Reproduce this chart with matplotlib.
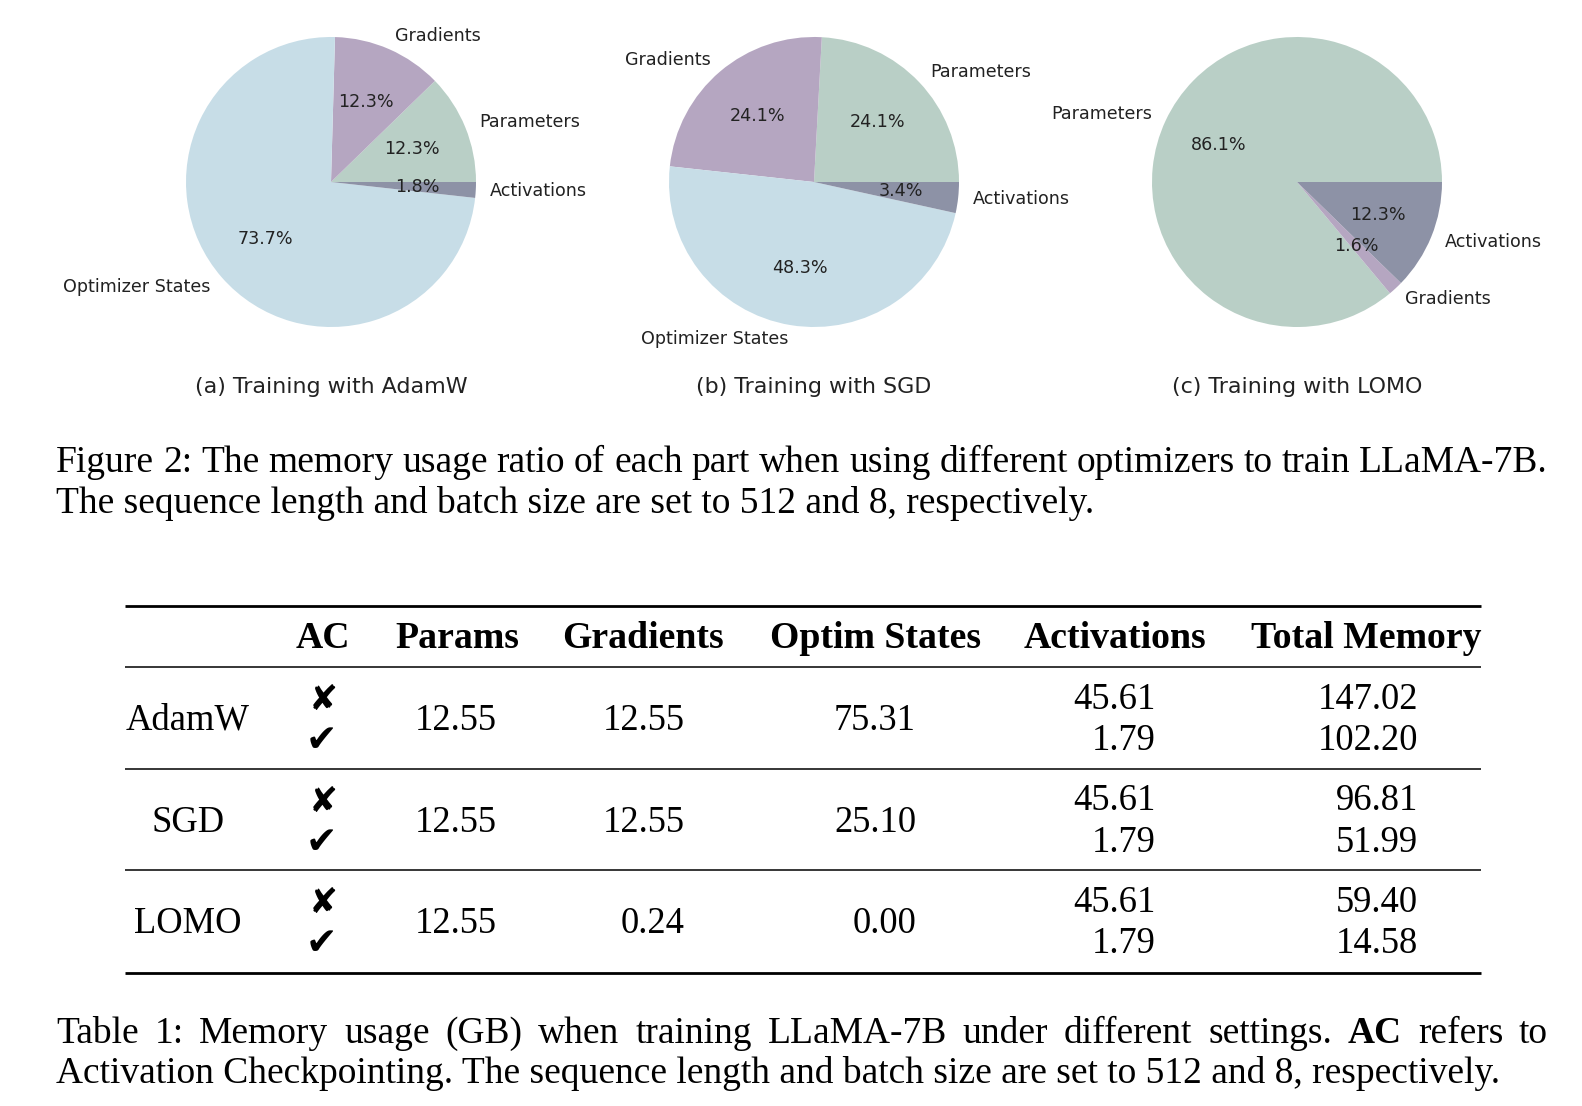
import matplotlib
matplotlib.use('Agg')
import matplotlib.pyplot as plt

W, H = 1582, 1106

# memory parts, in the order the pie wedges are drawn
COMPONENTS = ['Parameters', 'Gradients', 'Optimizer States', 'Activations']
OPTIMIZERS = ['AdamW', 'SGD', 'LOMO']
SUBCAPTIONS = ['(a) Training with AdamW', '(b) Training with SGD', '(c) Training with LOMO']

# Table 1 values (GB)
params = [12.55, 12.55, 12.55]
grads = [12.55, 12.55, 0.24]
optim_states = [75.31, 25.10, 0.00]
act_no_ac = [45.61, 45.61, 45.61]
act_ac = [1.79, 1.79, 1.79]
total_no_ac = [147.02, 96.81, 59.40]
total_ac = [102.20, 51.99, 14.58]

HEADER = ['AC', 'Params', 'Gradients', 'Optim States', 'Activations', 'Total Memory']

FIG_CAPTION = ['Figure 2: The memory usage ratio of each part when using different optimizers to train LLaMA-7B.',
               'The sequence length and batch size are set to 512 and 8, respectively.']
TAB_CAPTION = ['Table 1: Memory usage (GB) when training LLaMA-7B under different settings. AC refers to',
               'Activation Checkpointing. The sequence length and batch size are set to 512 and 8, respectively.']

COLORS = {'Parameters': '#b9cfc6', 'Gradients': '#b5a6c1',
          'Optimizer States': '#c7dde7', 'Activations': '#8d92a6'}

SERIF = ['Liberation Serif', 'DejaVu Serif']
SYM = ['DejaVu Sans']

fig = plt.figure(figsize=(W / 100, H / 100), dpi=100)
fig.patch.set_facecolor('white')

# full-figure axes in pixel coordinates for text and table rules
bg = fig.add_axes([0, 0, 1, 1])
bg.set_xlim(0, W)
bg.set_ylim(H, 0)
bg.axis('off')

# ---- pies (memory with activation checkpointing) ----
centers = [(331, 182), (814, 182), (1297, 182)]
R = 145
for i, opt in enumerate(OPTIMIZERS):
    vals = [params[i], grads[i], optim_states[i], act_ac[i]]
    keep = [(c, v) for c, v in zip(COMPONENTS, vals) if v > 0]
    labs = [c for c, v in keep]
    cx, cy = centers[i]
    ax = fig.add_axes([(cx - R) / W, 1 - (cy + R) / H, 2 * R / W, 2 * R / H])
    ax.pie([v for c, v in keep], labels=labs, colors=[COLORS[c] for c in labs],
           autopct='%1.1f%%', startangle=0,
           textprops={'fontsize': 12.6, 'color': '#222222'})
    ax.set_xlim(-1, 1)
    ax.set_ylim(-1, 1)
    ax.set_aspect('equal')
    bg.text(cx, 393, SUBCAPTIONS[i], fontsize=15.9, ha='center', va='baseline',
            color='#222222')

renderer = fig.canvas.get_renderer()


def justify(line, x0, x1, y, size, bold=()):
    words = line.split(' ')
    arts = []
    for w in words:
        arts.append(bg.text(0, y, w, fontsize=size, family=SERIF, va='baseline',
                            fontweight='bold' if w in bold else 'normal'))
    widths = [t.get_window_extent(renderer).width for t in arts]
    gap = (x1 - x0 - sum(widths)) / (len(words) - 1)
    x = x0
    for t, wd in zip(arts, widths):
        t.set_x(x)
        x += wd + gap


CAP_SIZE = 27.0
justify(FIG_CAPTION[0], 56, 1548, 472, CAP_SIZE)
bg.text(56, 513, FIG_CAPTION[1], fontsize=CAP_SIZE, family=SERIF, va='baseline')
justify(TAB_CAPTION[0], 56, 1548, 1043, CAP_SIZE, bold=('AC',))
bg.text(56, 1083, TAB_CAPTION[1], fontsize=CAP_SIZE, family=SERIF, va='baseline')

# ---- table ----
TAB_SIZE = 26.3
HEAD_SIZE = 27.2
x_left, x_right = 125, 1481
for y, lw in [(606, 2.0), (667, 1.1), (769, 1.1), (870, 1.1), (973, 2.0)]:
    bg.plot([x_left, x_right], [y, y], color='black', lw=lw, solid_capstyle='butt')

header_x = [323, 457, 643, 875, 1115, 1366]
for x, h in zip(header_x, HEADER):
    bg.text(x, 648, h, fontsize=HEAD_SIZE, family=SERIF, fontweight='bold',
            ha='center', va='baseline')

label_x = 188
ac_x = 323
right_x = {'params': 497, 'grads': 685, 'optim': 916, 'act': 1156, 'total': 1418}
for i, opt in enumerate(OPTIMIZERS):
    base = 730 + i * 101.5
    top, bottom = base - 21, base + 20
    bg.text(label_x, base, opt, fontsize=TAB_SIZE, family=SERIF, ha='center', va='baseline')
    bg.text(ac_x, top + 1, '\u2718', fontsize=25, family=SYM,
            ha='center', va='baseline')
    bg.text(ac_x - 2, bottom + 1, '\u2714', fontsize=27, family=SYM,
            ha='center', va='baseline')
    bg.text(right_x['params'], base, f'{params[i]:.2f}', fontsize=TAB_SIZE,
            family=SERIF, ha='right', va='baseline')
    bg.text(right_x['grads'], base, f'{grads[i]:.2f}', fontsize=TAB_SIZE,
            family=SERIF, ha='right', va='baseline')
    bg.text(right_x['optim'], base, f'{optim_states[i]:.2f}', fontsize=TAB_SIZE,
            family=SERIF, ha='right', va='baseline')
    bg.text(right_x['act'], top, f'{act_no_ac[i]:.2f}', fontsize=TAB_SIZE,
            family=SERIF, ha='right', va='baseline')
    bg.text(right_x['act'], bottom, f'{act_ac[i]:.2f}', fontsize=TAB_SIZE,
            family=SERIF, ha='right', va='baseline')
    bg.text(right_x['total'], top, f'{total_no_ac[i]:.2f}', fontsize=TAB_SIZE,
            family=SERIF, ha='right', va='baseline')
    bg.text(right_x['total'], bottom, f'{total_ac[i]:.2f}', fontsize=TAB_SIZE,
            family=SERIF, ha='right', va='baseline')

fig.savefig('out.png', dpi=100, facecolor='white')
